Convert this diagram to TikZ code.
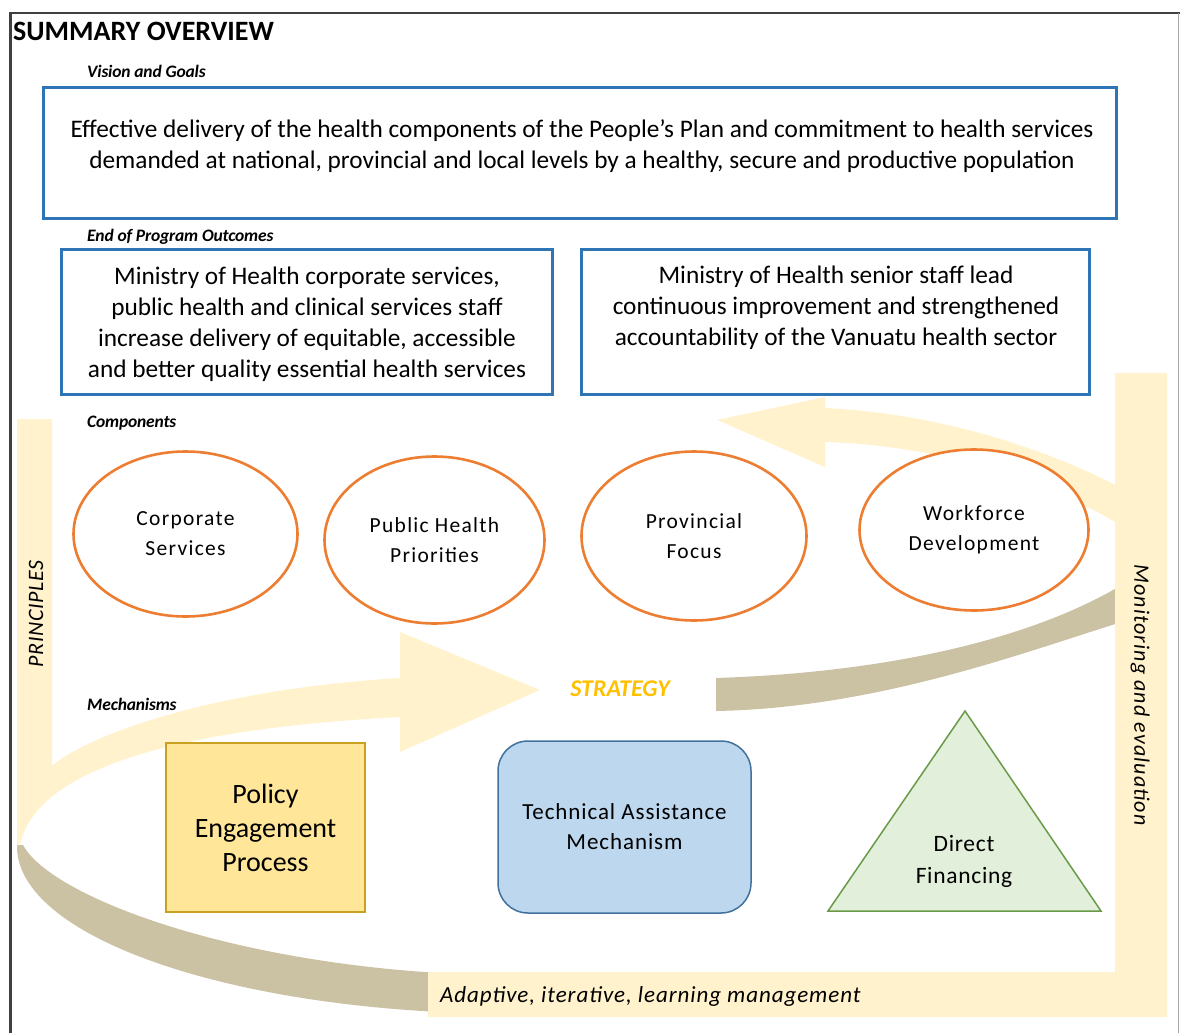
\documentclass[tikz,border=0pt]{standalone}
\usepackage{fontspec}
\setmainfont{Carlito}
\usetikzlibrary{shapes.geometric}
\definecolor{boxblue}{HTML}{2E75B6}
\definecolor{orng}{HTML}{ED7D31}
\definecolor{lyell}{HTML}{FFF2CC}
\definecolor{tanc}{HTML}{CBC2A3}
\definecolor{polfill}{HTML}{FFE699}
\definecolor{poldraw}{HTML}{C9A020}
\definecolor{tafill}{HTML}{BDD7EE}
\definecolor{tadraw}{HTML}{41719C}
\definecolor{grfill}{HTML}{E2EFDA}
\definecolor{grdraw}{HTML}{6A9A48}
\definecolor{strat}{HTML}{FFC000}
\definecolor{framec}{HTML}{404040}
\newcommand{\lsp}[1]{\addfontfeature{LetterSpace=#1}}
\begin{document}
\begin{tikzpicture}[x=1pt,y=-1pt,
  bluebox/.style={draw=boxblue, line width=3pt, fill=white, inner sep=0pt},
  boxtext/.style={align=center, inner sep=0pt, font=\fontsize{25.3}{31}\selectfont},
  compell/.style={ellipse, draw=orng, line width=2.6pt, fill=white, inner sep=0pt, align=center, font=\fontsize{21.5}{30}\selectfont\lsp{6}},
  seclabel/.style={anchor=west, inner sep=0pt, font=\fontsize{17.5}{19}\selectfont\bfseries\itshape\lsp{-1}},
  barlabel/.style={inner sep=0pt},
  mechtext/.style={align=center, inner sep=0pt}
]
\useasboundingbox (0,0) rectangle (1180,1033);

% ---- swoosh bands ----
\fill[tanc] (17,845) .. controls (15,930) and (200,1000) .. (440,1012)
  -- (440,973) .. controls (220,960) and (50,895) .. (23,845) -- cycle;
\fill[tanc] (1125,583) .. controls (1040,635) and (900,672) .. (716,678)
  -- (716,711) .. controls (880,708) and (1030,650) .. (1125,621) -- cycle;
\fill[lyell] (17,419) -- (52,419) -- (52,766)
  .. controls (80,740) and (200,690) .. (400,678)
  -- (400,632) -- (540,690) -- (400,752) -- (400,717)
  .. controls (250,725) and (40,750) .. (20,845) -- (17,845) -- cycle;
\fill[lyell] (1125,490) .. controls (1060,455) and (950,414) .. (825,408)
  -- (825,397) -- (717,420) -- (825,467) -- (825,442)
  .. controls (930,445) and (1040,475) .. (1125,528) -- cycle;
% Monitoring L bar
\fill[lyell] (1115,373) -- (1167,373) -- (1167,1017) -- (428,1017) -- (428,972) -- (1115,972) -- cycle;

% ---- frame ----
\draw[framec, line width=2.2pt] (10.5,1033) -- (10.5,13.3) -- (1180,13.3);
\draw[gray!70, line width=1pt] (1178.5,13.3) -- (1178.5,1033);

% ---- title and section labels ----
\node[anchor=west, inner sep=0pt, font=\fontsize{28}{30}\selectfont\bfseries] (title) at (13,31) {SUMMARY OVERVIEW};
\node[seclabel] (lvision) at (87,71) {Vision and Goals};
\node[seclabel] (lend) at (87,237) {End of Program Outcomes};
\node[seclabel] (lcomp) at (87,423) {Components};
\node[seclabel] (lmech) at (87,704) {Mechanisms};

% ---- vision / outcomes ----
\node[bluebox, minimum width=1073pt, minimum height=131pt] (vision) at (580,153) {};
\node[boxtext] (visiontext) at (582,146) {Effective delivery of the health components of the People’s Plan and commitment to health services\\demanded at national, provincial and local levels by a healthy, secure and productive population};
\node[bluebox, minimum width=491pt, minimum height=145pt] (out1) at (306.5,321.5) {};
\node[boxtext] (out1text) at (307,324) {Ministry of Health corporate services,\\public health and clinical services staff\\increase delivery of equitable, accessible\\and better quality essential health services};
\node[bluebox, minimum width=508pt, minimum height=145pt] (out2) at (835,321.5) {};
\node[boxtext] (out2text) at (836,308) {Ministry of Health senior staff lead\\continuous improvement and strengthened\\accountability of the Vanuatu health sector};

% ---- components ----
\node[compell, minimum width=224pt, minimum height=165pt] (corp) at (185.5,534) {Corporate\\Services};
\node[compell, minimum width=220pt, minimum height=167pt] (pub) at (434.5,540) {Public Health\\Priorities};
\node[compell, minimum width=225pt, minimum height=169pt] (prov) at (694,536) {Provincial\\Focus};
\node[compell, minimum width=229pt, minimum height=161pt] (work) at (974,530) {Workforce\\Development};

% ---- strategy ----
\node[inner sep=0pt, text=strat, font=\fontsize{24}{26}\selectfont\bfseries\itshape] (strategy) at (620,689) {STRATEGY};

% ---- mechanisms ----
\node[draw=poldraw, fill=polfill, line width=2pt, minimum width=199pt, minimum height=169pt, mechtext, font=\fontsize{28}{34}\selectfont] (policy) at (265.5,827.5) {Policy\\Engagement\\Process};
\node[draw=tadraw, fill=tafill, line width=1.5pt, rounded corners=30pt, minimum width=253pt, minimum height=172pt, mechtext, font=\fontsize{23}{30}\selectfont\lsp{4}] (ta) at (624.5,827) {Technical Assistance\\Mechanism};
\coordinate (tritop) at (965,711);
\coordinate (trileft) at (828,911);
\coordinate (triright) at (1101,911);
\filldraw[draw=grdraw, fill=grfill, line width=1.5pt, line join=miter] (tritop) -- (triright) -- (trileft) -- cycle;
\node[mechtext, font=\fontsize{23.5}{32}\selectfont\lsp{3}] (direct) at (964,861) {Direct\\Financing};

% ---- bar labels ----
\node[barlabel, rotate=90, font=\fontsize{22}{24}\selectfont\itshape\lsp{3}] (principles) at (36,614) {PRINCIPLES};
\node[barlabel, rotate=-90, font=\fontsize{22}{24}\selectfont\itshape\lsp{5}] (monitor) at (1140,695) {Monitoring and evaluation};
\node[barlabel, anchor=west, font=\fontsize{23}{26}\selectfont\itshape\lsp{4}] (adaptive) at (440,996) {Adaptive, iterative, learning management};
\end{tikzpicture}
\end{document}
